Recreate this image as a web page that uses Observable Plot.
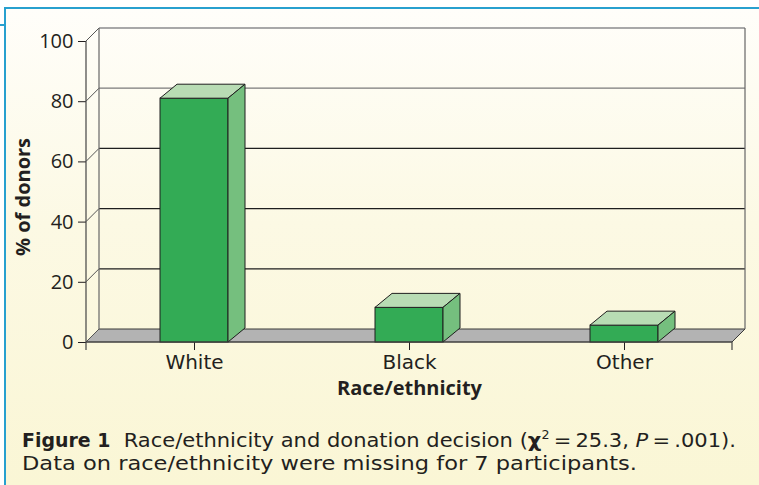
<!DOCTYPE html>
<html><head><meta charset="utf-8">
<script src="https://cdn.jsdelivr.net/npm/d3@7"></script>
<script src="https://cdn.jsdelivr.net/npm/@observablehq/plot@0.6"></script>
<style>
html,body{margin:0;padding:0;}
body{width:759px;height:485px;overflow:hidden;position:relative;background:#fff;font-family:"Open Sans",sans-serif;color:#231f20;}
#panel{position:absolute;left:4px;top:7px;width:755px;height:478px;background:linear-gradient(#fffefa 0%, #fcf9e4 45%, #faf6d5 100%);border-top:2.5px solid #27a0cf;border-left:2px solid #27a0cf;box-sizing:border-box;}
#tab{position:absolute;left:0;top:24px;width:5px;height:2px;background:#27a0cf;}
#chart{position:absolute;left:0;top:0;}
.cap{position:absolute;left:22px;font-family:"DejaVu Sans",sans-serif;font-size:20px;line-height:23px;white-space:nowrap;transform-origin:0 0;}
.cap b{font-family:"DejaVu Sans Condensed","DejaVu Sans",sans-serif;font-weight:bold;}
.cap .chi{font-family:"DejaVu Sans",sans-serif;font-weight:bold;}
.cap sup{font-size:12px;line-height:0;vertical-align:8px;}
#cap1{top:429px;}
#cap2{top:452px;}
#chart svg [aria-label^="x-axis"] text{font-family:"DejaVu Sans",sans-serif;font-size:20px;}
#chart svg [aria-label^="y-axis"] text{font-family:"Open Sans",sans-serif;font-size:20px;}
</style>
</head><body>
<div id="panel"></div><div id="tab"></div>
<div id="chart"></div>
<div class="cap" id="cap1"><b>Figure 1</b>&nbsp; Race/ethnicity and donation decision (<span class="chi">χ</span><sup>2</sup>&thinsp;=&thinsp;25.3, <i>P</i>&thinsp;=&thinsp;.001).</div>
<div class="cap" id="cap2">Data on race/ethnicity were missing for 7 participants.</div>
<script>
const categories = ["White", "Black", "Other"];
const donorPct = [81, 11.5, 5.6];
const yTicks = [0, 20, 40, 60, 80, 100];
const xTitle = "Race/ethnicity";
const yTitle = "% of donors";

const data = categories.map((c, i) => ({cat: c, val: donorPct[i]}));

const WDX = 13, WDY = 13;   // wall depth
const BDX = 17, BDY = 14;   // bar depth

function walls(index, scales) {
  const {x, y} = scales;
  const [x0, x1] = x.range();
  const y0 = y(0);
  const g = d3.create("svg:g").attr("fill", "none");
  g.append("polygon")
    .attr("points", [[x0, y0], [x1, y0], [x1 + WDX, y0 - WDY], [x0 + WDX, y0 - WDY]].join(" "))
    .attr("fill", "#b3b3b3").attr("stroke", "#3a3a3a").attr("stroke-width", 1);
  for (const v of yTicks) {
    if (v === 0) continue;
    const col = v === 100 ? "#a8a8a8" : v === 80 ? "#7a7a7a" : "#1e1e1e";
    g.append("line")
      .attr("x1", x0 + WDX).attr("x2", x1 + WDX)
      .attr("y1", y(v) - WDY).attr("y2", y(v) - WDY)
      .attr("stroke", col).attr("stroke-width", v === 100 ? 2 : 1.2);
  }
  for (const v of yTicks) {
    g.append("line")
      .attr("x1", x0).attr("y1", y(v))
      .attr("x2", x0 + WDX).attr("y2", y(v) - WDY)
      .attr("stroke", "#555").attr("stroke-width", 1);
  }
  for (const xx of [x0 + WDX, x1 + WDX]) {
    g.append("line")
      .attr("x1", xx).attr("x2", xx)
      .attr("y1", y(100) - WDY).attr("y2", y0 - WDY)
      .attr("stroke", "#666").attr("stroke-width", 1.2);
  }
  return g.node();
}

function faces(index, scales) {
  const {x, y} = scales;
  const bw = x.bandwidth();
  const y0 = y(0);
  const g = d3.create("svg:g").attr("stroke", "#1e1e1e").attr("stroke-width", 1).attr("stroke-linejoin", "round");
  for (const d of data) {
    const bx = x(d.cat), ty = y(d.val);
    g.append("polygon")
      .attr("points", [[bx, ty], [bx + bw, ty], [bx + bw + BDX, ty - BDY], [bx + BDX, ty - BDY]].join(" "))
      .attr("fill", "#b8dcb4");
    g.append("polygon")
      .attr("points", [[bx + bw, ty], [bx + bw + BDX, ty - BDY], [bx + bw + BDX, y0 - BDY], [bx + bw, y0]].join(" "))
      .attr("fill", "#75bf7e");
  }
  return g.node();
}

function frontAxes(index, scales) {
  const {x, y} = scales;
  const [x0, x1] = x.range();
  const y0 = y(0);
  const g = d3.create("svg:g").attr("stroke", "#444").attr("stroke-width", 1.2);
  g.append("line").attr("x1", x0).attr("x2", x0).attr("y1", y(100)).attr("y2", y0);
  g.append("line").attr("x1", x0).attr("x2", x1).attr("y1", y0).attr("y2", y0);
  for (const xx of [x0, x1]) {
    g.append("line").attr("x1", xx).attr("x2", xx).attr("y1", y0).attr("y2", y0 + 8);
  }
  return g.node();
}

const chart = Plot.plot({
  width: 759,
  height: 410,
  marginLeft: 86,
  marginRight: 27,
  marginTop: 41,
  marginBottom: 68,
  style: {background: "transparent", fontFamily: "'Open Sans', sans-serif", fontSize: "20px", color: "#231f20", overflow: "visible"},
  x: {domain: categories, paddingInner: 0.684, paddingOuter: 0.342, tickSize: 8, tickPadding: 4, label: null},
  y: {domain: [0, 100], ticks: yTicks, tickSize: 8, tickPadding: 5, label: null},
  marks: [
    walls,
    Plot.barY(data, {x: "cat", y: "val", fill: "#33ab55", stroke: "#1e1e1e", strokeWidth: 1}),
    faces,
    frontAxes,
    Plot.text([xTitle], {frameAnchor: "bottom", textAnchor: "middle", dy: 52, fontSize: 20, fontWeight: "bold", fill: "#231f20"}),
    Plot.text([yTitle], {frameAnchor: "left", textAnchor: "middle", dx: -63, dy: 5, rotate: -90, fontSize: 20, fontWeight: "bold", fill: "#231f20"})
  ]
});
document.getElementById("chart").appendChild(chart);

// stretch caption lines horizontally to the reference line lengths
const capWidths = {cap1: 714, cap2: 615};
for (const id in capWidths) {
  const el = document.getElementById(id);
  const w = el.getBoundingClientRect().width;
  el.style.transform = `scaleX(${capWidths[id] / w})`;
}
</script>
</body></html>
